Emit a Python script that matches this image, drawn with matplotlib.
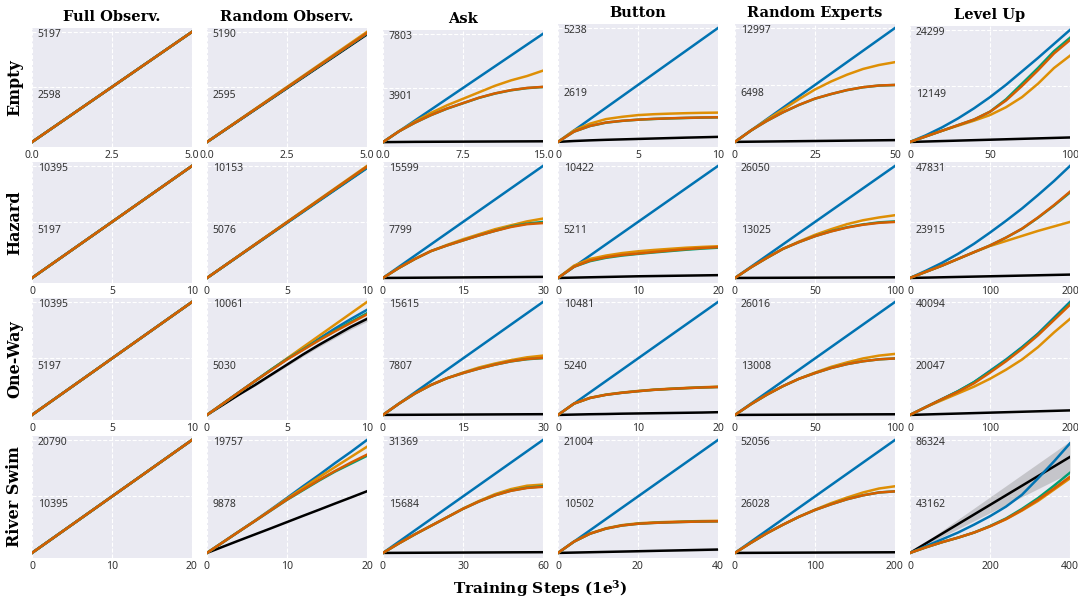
import matplotlib.pyplot as plt
import numpy as np
from matplotlib.transforms import blended_transform_factory

plt.rcParams["mathtext.fontset"] = "dejavuserif"

rows = ["Empty", "Hazard", "One-Way", "River Swim"]
cols = ["Full Observ.", "Random Observ.", "Ask", "Button", "Random Experts", "Level Up"]
# drawing order: black first, then blue, orange, green, red on top
colors = ["#0173b2", "#de8f05", "#029e73", "#d55e00", "#000000"]

x_max = {
    "Empty": [5, 5, 15, 10, 50, 100],
    "Hazard": [10, 10, 30, 20, 100, 200],
    "One-Way": [10, 10, 30, 20, 100, 200],
    "River Swim": [20, 20, 60, 40, 200, 400],
}
y_top = {
    "Empty": [5197, 5190, 7803, 5238, 12997, 24299],
    "Hazard": [10395, 10153, 15599, 10422, 26050, 47831],
    "One-Way": [10395, 10061, 15615, 10481, 26016, 40094],
    "River Swim": [20790, 19757, 31369, 21004, 52056, 86324],
}

# mean return, 11 evenly spaced checkpoints; order: blue, orange, green, red, black
full_empty = [0, 520, 1039, 1559, 2079, 2598, 3118, 3638, 4158, 4677, 5197]
full_10 = [0, 1040, 2079, 3119, 4158, 5198, 6237, 7277, 8316, 9356, 10395]
full_river = [0, 2079, 4158, 6237, 8316, 10395, 12474, 14553, 16632, 18711, 20790]

empty = {
    "Full Observ.": [full_empty] * 5,
    "Random Observ.": [
        [0, 511, 1022, 1533, 2044, 2555, 3066, 3577, 4088, 4599, 5110],
        [0, 519, 1038, 1557, 2076, 2595, 3114, 3633, 4152, 4671, 5190],
        [0, 512, 1024, 1536, 2048, 2560, 3072, 3584, 4096, 4608, 5120],
        [0, 513, 1026, 1539, 2052, 2565, 3078, 3591, 4104, 4617, 5130],
        [0, 507, 1014, 1521, 2028, 2535, 3042, 3549, 4056, 4563, 5070],
    ],
    "Ask": [
        [0, 780, 1561, 2341, 3121, 3902, 4682, 5462, 6242, 7023, 7803],
        [0, 780, 1483, 2107, 2653, 3121, 3589, 4058, 4448, 4760, 5150],
        [0, 780, 1400, 1945, 2410, 2800, 3190, 3500, 3735, 3890, 3970],
        [0, 780, 1405, 1951, 2419, 2809, 3199, 3511, 3745, 3902, 3980],
        [0, 10, 20, 25, 30, 35, 40, 45, 50, 55, 60],
    ],
    "Button": [
        [0, 524, 1048, 1571, 2095, 2619, 3143, 3667, 4190, 4714, 5238],
        [0, 524, 838, 1048, 1152, 1231, 1273, 1299, 1320, 1336, 1346],
        [0, 471, 730, 885, 965, 1020, 1055, 1080, 1100, 1118, 1128],
        [0, 471, 733, 890, 969, 1021, 1058, 1084, 1105, 1121, 1131],
        [0, 40, 70, 95, 115, 135, 155, 175, 195, 212, 230],
    ],
    "Random Experts": [
        [0, 1300, 2599, 3899, 5199, 6499, 7798, 9098, 10398, 11697, 12997],
        [0, 1300, 2534, 3704, 4874, 5979, 6888, 7668, 8318, 8773, 9098],
        [0, 1300, 2400, 3370, 4215, 4930, 5450, 5905, 6230, 6425, 6490],
        [0, 1300, 2404, 3379, 4224, 4939, 5459, 5914, 6239, 6434, 6499],
        [0, 20, 40, 60, 80, 100, 120, 140, 160, 180, 200],
    ],
    "Level Up": [
        [0, 1458, 3159, 5103, 7290, 9720, 12392, 15308, 18224, 21262, 24299],
        [0, 1215, 2430, 3523, 4617, 5832, 7533, 9720, 12635, 16037, 18710],
        [0, 1215, 2430, 3645, 4860, 6561, 9234, 12635, 16037, 19682, 22598],
        [0, 1215, 2430, 3645, 4860, 6561, 8991, 12150, 15551, 19196, 22112],
        [0, 97, 194, 292, 389, 486, 583, 680, 778, 875, 972],
    ],
}

hazard = {
    "Full Observ.": [full_10] * 5,
    "Random Observ.": [
        [0, 1000, 2000, 2995, 3990, 4985, 5980, 6975, 7970, 8960, 9950],
        [0, 1015, 2031, 3046, 4061, 5077, 6092, 7107, 8122, 9138, 10153],
        [0, 1006, 2012, 3018, 4024, 5030, 6036, 7042, 8048, 9054, 10060],
        [0, 1008, 2016, 3024, 4032, 5040, 6048, 7056, 8064, 9072, 10080],
        [0, 1010, 2020, 3030, 4035, 5035, 6030, 7020, 8010, 9005, 10000],
    ],
    "Ask": [
        [0, 1560, 3120, 4680, 6240, 7800, 9359, 10919, 12479, 14039, 15599],
        [0, 1404, 2652, 3744, 4602, 5382, 6084, 6786, 7332, 7877, 8267],
        [0, 1404, 2652, 3744, 4524, 5226, 5928, 6552, 7176, 7565, 7800],
        [0, 1404, 2652, 3744, 4524, 5226, 5928, 6552, 7098, 7488, 7644],
        [0, 15, 30, 45, 60, 75, 90, 105, 120, 135, 150],
    ],
    "Button": [
        [0, 1042, 2084, 3127, 4169, 5211, 6253, 7295, 8338, 9380, 10422],
        [0, 1146, 1772, 2084, 2314, 2480, 2606, 2710, 2814, 2887, 2949],
        [0, 1042, 1563, 1876, 2084, 2241, 2376, 2501, 2626, 2731, 2814],
        [0, 1042, 1615, 1928, 2137, 2272, 2418, 2553, 2678, 2783, 2866],
        [0, 31, 63, 94, 125, 156, 177, 198, 219, 240, 261],
    ],
    "Random Experts": [
        [0, 2605, 5210, 7815, 10420, 13025, 15630, 18235, 20840, 23445, 26050],
        [0, 2475, 4689, 6773, 8466, 10029, 11332, 12504, 13416, 14067, 14588],
        [0, 2475, 4689, 6773, 8336, 9717, 10863, 11775, 12452, 12921, 13155],
        [0, 2475, 4689, 6773, 8336, 9717, 10811, 11723, 12374, 12817, 13025],
        [0, 15, 30, 45, 60, 75, 90, 105, 120, 135, 150],
    ],
    "Level Up": [
        [0, 3109, 6457, 10284, 14588, 19372, 24394, 29655, 35395, 41374, 47831],
        [0, 2631, 5261, 8131, 11001, 13632, 15784, 17937, 20089, 22002, 23916],
        [0, 2631, 5261, 8131, 11001, 13871, 17219, 20950, 25700, 30900, 36500],
        [0, 2631, 5261, 8131, 11001, 13871, 17219, 21046, 25829, 31090, 36830],
        [0, 144, 287, 431, 574, 717, 861, 1004, 1148, 1291, 1435],
    ],
}

one_way = {
    "Full Observ.": [full_10] * 5,
    "Random Observ.": [
        [0, 1006, 2012, 3018, 4024, 4980, 5886, 6791, 7697, 8552, 9357],
        [0, 1006, 2012, 3018, 4024, 5031, 6037, 7043, 8049, 9055, 10061],
        [0, 1006, 2012, 3018, 4024, 4980, 5835, 6691, 7495, 8300, 9055],
        [0, 1006, 2012, 3018, 3974, 4930, 5785, 6640, 7445, 8200, 8954],
        [0, 905, 1811, 2666, 3572, 4477, 5383, 6238, 7043, 7848, 8552],
    ],
    "Ask": [
        [0, 1562, 3123, 4685, 6246, 7808, 9369, 10931, 12492, 14054, 15615],
        [0, 1562, 2967, 4138, 5075, 5856, 6558, 7105, 7573, 7964, 8198],
        [0, 1562, 2967, 4138, 5075, 5778, 6402, 6949, 7400, 7700, 7850],
        [0, 1562, 2967, 4138, 5075, 5778, 6402, 6949, 7417, 7729, 7886],
        [0, 10, 20, 30, 40, 50, 60, 70, 80, 90, 100],
    ],
    "Button": [
        [0, 1048, 2096, 3144, 4192, 5241, 6289, 7337, 8385, 9433, 10481],
        [0, 1048, 1593, 1887, 2075, 2222, 2348, 2432, 2505, 2568, 2620],
        [0, 1048, 1572, 1866, 2054, 2201, 2327, 2411, 2484, 2547, 2589],
        [0, 1048, 1572, 1866, 2054, 2201, 2327, 2411, 2484, 2547, 2589],
        [0, 31, 63, 84, 115, 136, 157, 178, 199, 220, 252],
    ],
    "Random Experts": [
        [0, 2602, 5203, 7805, 10406, 13008, 15610, 18211, 20813, 23414, 26016],
        [0, 2472, 4683, 6634, 8325, 9756, 11057, 12097, 13008, 13658, 14049],
        [0, 2472, 4683, 6634, 8325, 9626, 10797, 11707, 12358, 12800, 13008],
        [0, 2472, 4683, 6634, 8325, 9626, 10797, 11707, 12358, 12800, 13008],
        [0, 15, 30, 45, 60, 75, 90, 105, 120, 135, 150],
    ],
    "Level Up": [
        [0, 2807, 5613, 8420, 11627, 15637, 19646, 24056, 28868, 34481, 40094],
        [0, 2807, 5212, 7618, 10024, 12830, 16038, 19646, 24056, 29269, 34080],
        [0, 2807, 5613, 8420, 11627, 15436, 19446, 23856, 28667, 34080, 39693],
        [0, 2807, 5613, 8219, 11226, 15035, 19045, 23455, 28266, 33679, 39092],
        [0, 160, 321, 481, 642, 802, 962, 1123, 1283, 1443, 1604],
    ],
}

river_swim = {
    "Full Observ.": [full_river] * 5,
    "Random Observ.": [
        [0, 1877, 3754, 5631, 7606, 9622, 11657, 13632, 15707, 17683, 19757],
        [0, 1877, 3754, 5631, 7547, 9483, 11360, 13237, 15015, 16793, 18572],
        [0, 1877, 3754, 5591, 7429, 9286, 10965, 12644, 14225, 15608, 16991],
        [0, 1877, 3754, 5591, 7468, 9325, 11064, 12743, 14324, 15806, 17189],
        [0, 1087, 2173, 3240, 4307, 5394, 6480, 7547, 8634, 9701, 10787],
    ],
    "Ask": [
        [0, 3137, 6274, 9411, 12548, 15685, 18821, 21958, 25095, 28232, 31369],
        [0, 2666, 5176, 7529, 9881, 12297, 14430, 16312, 17723, 18665, 18978],
        [0, 2666, 5176, 7529, 9881, 12234, 14273, 16000, 17300, 18100, 18500],
        [0, 2666, 5176, 7529, 9881, 12234, 14273, 15998, 17253, 18037, 18351],
        [0, 20, 40, 60, 80, 100, 120, 140, 160, 180, 200],
    ],
    "Button": [
        [0, 2100, 4201, 6301, 8402, 10502, 12602, 14703, 16803, 18904, 21004],
        [0, 2100, 3613, 4579, 5167, 5503, 5671, 5776, 5860, 5923, 5965],
        [0, 2100, 3571, 4516, 5104, 5419, 5587, 5692, 5776, 5839, 5881],
        [0, 2100, 3571, 4516, 5104, 5419, 5587, 5692, 5776, 5839, 5881],
        [0, 63, 126, 189, 252, 315, 378, 441, 504, 567, 630],
    ],
    "Random Experts": [
        [0, 5206, 10411, 15617, 20822, 26028, 31234, 36439, 41645, 46850, 52056],
        [0, 4685, 9110, 13014, 16658, 19937, 22905, 25507, 27850, 29672, 30713],
        [0, 4685, 9110, 13014, 16658, 19781, 22384, 24727, 26549, 27850, 28371],
        [0, 4685, 9110, 13014, 16658, 19781, 22384, 24727, 26549, 27850, 28371],
        [0, 30, 60, 90, 120, 150, 180, 210, 240, 270, 300],
    ],
    "Level Up": [
        [0, 5179, 10359, 15538, 21581, 28055, 35393, 44457, 56974, 69922, 83734],
        [0, 4316, 8201, 11654, 15538, 20286, 25725, 32372, 39709, 48341, 56974],
        [0, 4316, 8201, 11654, 15538, 20545, 26329, 33666, 41867, 51363, 61290],
        [0, 4316, 8201, 11654, 15538, 20286, 25897, 32803, 40572, 49205, 58269],
        [0, 7338, 14675, 22013, 29350, 36688, 44025, 51363, 58700, 66038, 73375],
    ],
}

results = {"Empty": empty, "Hazard": hazard, "One-Way": one_way, "River Swim": river_swim}

# std of the black baseline where its band is visible
black_std = {
    ("One-Way", "Random Observ."): [0, 30, 60, 90, 110, 130, 150, 170, 190, 210, 230],
    ("River Swim", "Button"): [0, 20, 40, 60, 80, 100, 120, 140, 160, 180, 200],
    ("River Swim", "Level Up"): [0, 1209, 2417, 3626, 4834, 6043, 7251, 8460, 9668, 10877, 12085],
}

W, H = 1078, 598
fig = plt.figure(figsize=(W / 100, H / 100), dpi=100)

col_left = [32, 207, 383, 558, 735, 910]
row_top = [28, 162, 298, 436]
row_bottom = [147, 283, 420, 558]
first_row_top = [28, 28, 30, 24, 24, 26]
panel_w = 160

for i, row in enumerate(rows):
    for j, col in enumerate(cols):
        top_px = first_row_top[j] if i == 0 else row_top[i]
        ax = fig.add_axes([col_left[j] / W, 1 - row_bottom[i] / H,
                           panel_w / W, (row_bottom[i] - top_px) / H])
        ax.set_facecolor("#eaeaf2")
        for s in ax.spines.values():
            s.set_visible(False)

        xm = x_max[row][j]
        top = y_top[row][j]
        mid = top // 2
        series = results[row][col]
        steps = np.linspace(0, xm, len(series[0]))

        key = (row, col)
        if key in black_std:
            m = np.array(series[4])
            sd = np.array(black_std[key])
            ax.fill_between(steps, m - sd, m + sd, color="#9a9a9a", alpha=0.45,
                            lw=0, zorder=1)
        ax.plot(steps, series[4], color=colors[4], lw=1.8, zorder=2)
        for k in range(4):
            ax.plot(steps, series[k], color=colors[k], lw=1.8, zorder=3 + k)

        ax.set_xlim(0, xm)
        ax.set_ylim(-0.045 * top, 1.035 * top)
        ax.set_xticks([0, xm / 2, xm])
        ax.set_yticks([mid, top])
        ax.set_yticklabels([])
        ax.grid(True, color="white", ls="--", lw=0.8)
        ax.set_axisbelow(True)
        ax.tick_params(length=0, pad=2, labelsize=7.5)
        for lab in ax.get_xticklabels():
            lab.set_fontfamily("Noto Sans")
            lab.set_color("#333333")

        trans = blended_transform_factory(ax.transAxes, ax.transData)
        ax.annotate(str(top), xy=(0, 1), xycoords="axes fraction",
                    xytext=(4, -1), textcoords="offset points",
                    ha="left", va="top", fontsize=7.5, family="Noto Sans", color="#333333")
        ax.annotate(str(mid), xy=(0, mid), xycoords=trans,
                    xytext=(4, -2), textcoords="offset points",
                    ha="left", va="top", fontsize=7.5, family="Noto Sans", color="#333333")

        if i == 0:
            ax.set_title(col, family="DejaVu Serif", fontweight="bold",
                         fontsize=10.5, pad=5)
        if j == 0:
            fig.text(15 / W, 1 - (row_top[i] + row_bottom[i]) / 2 / H, row,
                     rotation=90, ha="center", va="center",
                     family="DejaVu Serif", fontweight="bold", fontsize=11.5)

fig.text(540 / W, 1 - 589 / H, "Training Steps (1e$^{\\mathbf{3}}$)",
         ha="center", va="center", family="DejaVu Serif", fontweight="bold",
         fontsize=11)

fig.savefig("out.png", dpi=100)
